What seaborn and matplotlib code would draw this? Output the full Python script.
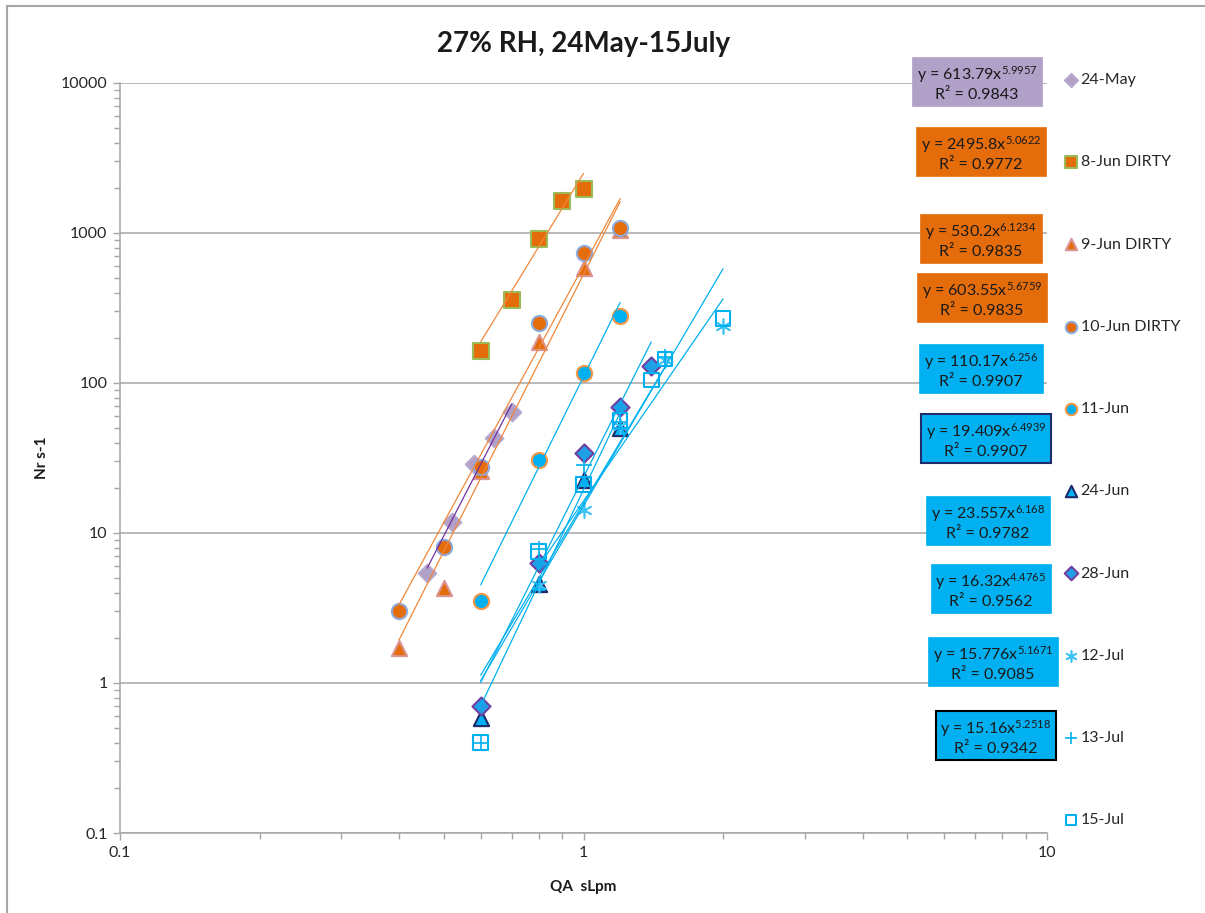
import matplotlib
matplotlib.use("Agg")
import matplotlib.pyplot as plt
import matplotlib.ticker as mticker
from matplotlib.lines import Line2D
import numpy as np
import pandas as pd
import seaborn as sns

# ---- data ----
series_names = ['24-May', '8-Jun DIRTY', '9-Jun DIRTY', '10-Jun DIRTY', '11-Jun',
                '24-Jun', '28-Jun', '12-Jul', '13-Jul', '15-Jul']

qa_24may = [0.46, 0.52, 0.58, 0.64, 0.70]
nr_24may = [5.4, 11.8, 29, 43, 64]
qa_8jun = [0.6, 0.7, 0.8, 0.9, 1.0]
nr_8jun = [163, 357, 910, 1630, 1970]
qa_9jun = [0.4, 0.5, 0.6, 0.8, 1.0, 1.2]
nr_9jun = [1.7, 4.3, 26, 188, 584, 1050]
qa_10jun = [0.4, 0.5, 0.6, 0.8, 1.0, 1.2]
nr_10jun = [3.0, 8.1, 27.5, 250, 735, 1080]
qa_11jun = [0.6, 0.8, 1.0, 1.2]
nr_11jun = [3.5, 30.7, 117, 280]
qa_24jun = [0.6, 0.8, 1.0, 1.2]
nr_24jun = [0.58, 4.6, 22.6, 50]
qa_28jun = [0.6, 0.8, 1.0, 1.2, 1.4]
nr_28jun = [0.70, 6.3, 34, 69, 130]
qa_12jul = [0.8, 1.0, 1.2, 1.5, 2.0]
nr_12jul = [4.5, 14.2, 52, 142, 240]
qa_13jul = [0.6, 0.8, 1.0, 1.2, 1.5]
nr_13jul = [0.4, 7.8, 28.4, 55, 150]
qa_15jul = [0.6, 0.8, 1.0, 1.2, 1.4, 1.5, 2.0]
nr_15jul = [0.4, 7.5, 21, 56, 105, 145, 270]

# power-law trendlines y = a * x^b shown in the labels
fit_a = [613.79, 2495.8, 530.2, 603.55, 110.17, 19.409, 23.557, 16.32, 15.776, 15.16]
fit_b = [5.9957, 5.0622, 6.1234, 5.6759, 6.256, 6.4939, 6.168, 4.4765, 5.1671, 5.2518]
fit_r2 = [0.9843, 0.9772, 0.9835, 0.9835, 0.9907, 0.9907, 0.9782, 0.9562, 0.9085, 0.9342]

qa_all = [qa_24may, qa_8jun, qa_9jun, qa_10jun, qa_11jun,
          qa_24jun, qa_28jun, qa_12jul, qa_13jul, qa_15jul]
nr_all = [nr_24may, nr_8jun, nr_9jun, nr_10jun, nr_11jun,
          nr_24jun, nr_28jun, nr_12jul, nr_13jul, nr_15jul]

# ---- styling ----
purple = '#B1A0C7'
orange = '#E46C0A'
cyan = '#00B0F0'
markers = ['D', 's', '^', 'o', 'o', '^', 'D', (6, 2, 0), '+', 's']
sizes = [80, 120, 120, 120, 120, 120, 85, 110, 130, 110]
faces = [purple, orange, orange, orange, cyan, cyan, '#1E9FE6', cyan, cyan, 'none']
edges = ['#B7A9CF', '#9BBB59', '#D99694', '#8EA9DB', '#F79646', '#1F2A6B', '#7040A0',
         '#3CC3F5', cyan, cyan]
line_colors = ['#7030A0', '#F0883C', '#F0883C', '#F0883C', cyan, cyan, cyan, cyan, cyan, cyan]
box_faces = [purple, orange, orange, orange, cyan, cyan, cyan, cyan, cyan, cyan]
box_edges = [purple, orange, orange, orange, cyan, '#1F2D6B', cyan, cyan, cyan, 'black']
box_lw = [0.5, 0.5, 0.5, 0.5, 0.5, 1.5, 0.5, 0.5, 0.5, 1.5]
# label box centres in pixels
box_pos = [(977, 83), (981, 153), (981, 240), (982, 299), (981, 370),
           (986, 440), (988, 522), (991, 590), (993, 663), (996, 737)]

sns.set_theme(style="white")
plt.rcParams['font.family'] = ['Lato', 'DejaVu Sans']
plt.rcParams['mathtext.fontset'] = 'custom'
plt.rcParams['mathtext.rm'] = 'Lato'
plt.rcParams['mathtext.it'] = 'Lato'
plt.rcParams['mathtext.bf'] = 'Lato:bold'

W, H = 1205, 913
fig = plt.figure(figsize=(W / 100, H / 100), dpi=100)
ax = fig.add_axes([120 / W, 80 / H, 927 / W, 750 / H])
ax.set_xscale('log')
ax.set_yscale('log')
ax.set_xlim(0.1, 10)
ax.set_ylim(0.1, 10000)

grey = '#A6A6A6'
ax.grid(False)
ax.yaxis.grid(True, which='major', color=grey, lw=1.1)
ax.set_axisbelow(True)
for side in ['top', 'right']:
    ax.spines[side].set_visible(False)
for side in ['left', 'bottom']:
    ax.spines[side].set_color(grey)
    ax.spines[side].set_linewidth(1.1)

ax.xaxis.set_major_locator(mticker.FixedLocator([0.1, 1, 10]))
ax.yaxis.set_major_locator(mticker.FixedLocator([0.1, 1, 10, 100, 1000, 10000]))
ax.xaxis.set_minor_locator(mticker.LogLocator(base=10, subs=np.arange(2, 10)))
ax.yaxis.set_minor_locator(mticker.LogLocator(base=10, subs=np.arange(2, 10)))
fmt = mticker.FuncFormatter(lambda v, p: '%g' % v)
ax.xaxis.set_major_formatter(fmt)
ax.yaxis.set_major_formatter(fmt)
ax.xaxis.set_minor_formatter(mticker.NullFormatter())
ax.yaxis.set_minor_formatter(mticker.NullFormatter())
ax.tick_params(which='both', direction='out', color=grey, width=1, labelsize=11.5,
               labelcolor='#262626', bottom=True, left=True)
ax.tick_params(which='major', length=5, pad=4)
ax.tick_params(which='minor', length=4)

# trendlines
for i in range(len(series_names)):
    xs = np.geomspace(min(qa_all[i]), max(qa_all[i]), 30)
    trend = pd.DataFrame({'qa': xs, 'nr': fit_a[i] * xs ** fit_b[i]})
    sns.lineplot(data=trend, x='qa', y='nr', color=line_colors[i], lw=0.9,
                 legend=False, ax=ax, zorder=4)

# points
for i, name in enumerate(series_names):
    pts = pd.DataFrame({'qa': qa_all[i], 'nr': nr_all[i]})
    kw = dict(marker=markers[i], s=sizes[i], color=faces[i] if faces[i] != 'none' else cyan,
              label=name, ax=ax, zorder=3 + i * 0.01)
    if faces[i] == 'none':
        kw['facecolor'] = 'none'
        kw['edgecolor'] = edges[i]
        kw['linewidth'] = 1.5
    elif markers[i] in ['+', (6, 2, 0)]:
        kw['color'] = edges[i]
        kw['linewidth'] = 1.2
    else:
        kw['edgecolor'] = edges[i]
        kw['linewidth'] = 1.5
    sns.scatterplot(data=pts, x='qa', y='nr', **kw)

# equation labels
for i in range(len(series_names)):
    px, py = box_pos[i]
    txt = 'y = %gx$^{%g}$\nR\u00b2 = %g' % (fit_a[i], fit_b[i], fit_r2[i])
    fig.text(px / W, 1 - py / H, txt, ha='center', va='center', fontsize=11.5,
             color='#1a1a1a', linespacing=1.2,
             bbox=dict(boxstyle='square,pad=0.3', fc=box_faces[i], ec=box_edges[i], lw=box_lw[i]))

ax.set_xlabel('QA  sLpm', fontsize=11, fontweight='bold', color='#1a1a1a')
ax.set_ylabel('Nr s-1', fontsize=11, fontweight='bold', color='#1a1a1a')
ax.xaxis.set_label_coords(0.5, -0.062)
ax.yaxis.set_label_coords(-0.077, 0.5)
ax.set_title('27% RH, 24May-15July', fontsize=20, fontweight='bold', color='#1a1a1a',
             y=1.0413, pad=0)

handles, labels = ax.get_legend_handles_labels()
ax.legend(handles, labels, loc='upper left', bbox_to_anchor=(1063 / W, 1 - 73 / H),
          bbox_transform=fig.transFigure, frameon=False, fontsize=11.5, labelspacing=4.26,
          handletextpad=0.1, handlelength=1.0, markerscale=0.75, borderaxespad=0,
          borderpad=0)

# outer chart border (left and top edges are visible in the crop)
fig.add_artist(Line2D([7 / W, 7 / W], [0, 1 - 6 / H], transform=fig.transFigure,
                      color=grey, lw=1.5))
fig.add_artist(Line2D([7 / W, 1], [1 - 6 / H, 1 - 6 / H], transform=fig.transFigure,
                      color=grey, lw=1.5))

fig.savefig('out.png', dpi=100)
